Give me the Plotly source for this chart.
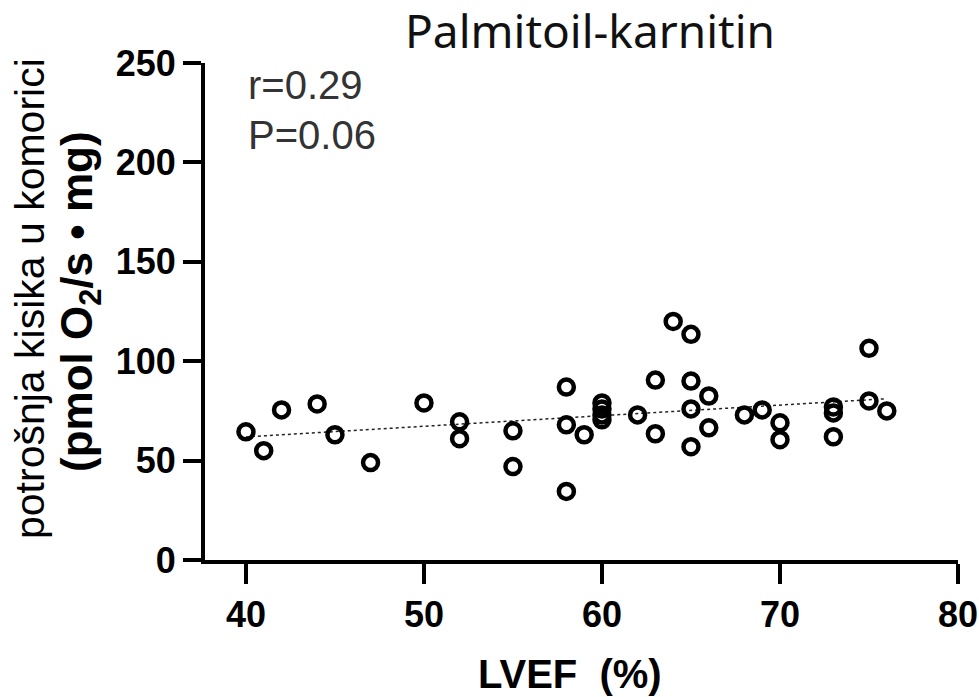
import numpy as np
import plotly.graph_objects as go

# Data
lvef = [40, 41, 42, 44, 45, 47, 50, 52, 52, 55, 55, 58, 58, 58, 59,
        60, 60, 60, 60, 62, 63, 63, 64, 65, 65, 65, 65, 66, 66, 68,
        69, 70, 70, 73, 73, 73, 75, 75, 76]
o2 = [64.5, 55, 75.5, 78.5, 63, 49, 79, 69.5, 61, 65, 47, 87, 68, 34.5, 63,
      79, 76, 73, 70.5, 73, 90.5, 63.5, 120, 113.5, 90, 76, 57, 82.5, 66.5, 73,
      75.5, 69, 60.5, 77, 74, 62, 106.5, 80, 75]
x_ticks = [40, 50, 60, 70, 80]
y_ticks = [0, 50, 100, 150, 200, 250]
title_text = "Palmitoil-karnitin"
stat_r = "r=0.29"
stat_p = "P=0.06"
ytitle1 = "potrošnja kisika u komorici"
ytitle2 = "<b>(pmol O<sub>2</sub>/s • mg)</b>"
xtitle = "<b>LVEF  (%)</b>"

W, H = 979, 697
L, R, T, B = 205, 958, 63, 560


def px(x):
    return (x - L) / (R - L)


def py(y):
    return (B - y) / (B - T)


slope, intercept = np.polyfit(lvef, o2, 1)
fx = [min(lvef), max(lvef)]
fy = [slope * v + intercept for v in fx]

fig = go.Figure()
fig.add_trace(go.Scatter(x=fx, y=fy, mode="lines",
                         line=dict(color="#222", width=1.5, dash="dot"),
                         hoverinfo="skip", showlegend=False))
fig.add_trace(go.Scatter(x=lvef, y=o2, mode="markers",
                         marker=dict(symbol="circle-open", size=15, color="black",
                                     line=dict(width=4.5, color="black")),
                         showlegend=False))

axfont = dict(family="Liberation Sans, Arial", size=36, color="black", weight="bold")
fig.update_xaxes(range=[37.7, 80], tickvals=x_ticks, ticks="outside", ticklen=20,
                 tickwidth=4, tickcolor="black", showline=True, linewidth=4,
                 linecolor="black", showgrid=False, zeroline=False, tickfont=axfont,
                 automargin=False)
fig.update_yaxes(range=[0, 250], tickvals=y_ticks, ticks="outside", ticklen=18,
                 tickwidth=4, tickcolor="black", showline=True, linewidth=4,
                 linecolor="black", showgrid=False, zeroline=False, tickfont=axfont,
                 automargin=False)

ann = [
    dict(text=title_text, x=px(590), y=py(30), font=dict(family="Noto Sans", size=46, color="#111"),
         xanchor="center", yanchor="middle"),
    dict(text=stat_r, x=px(246), y=py(85), font=dict(family="Liberation Sans, Arial", size=40, color="#333"),
         xanchor="left", yanchor="middle"),
    dict(text=stat_p, x=px(246), y=py(135), font=dict(family="Liberation Sans, Arial", size=40, color="#333"),
         xanchor="left", yanchor="middle"),
    dict(text=ytitle1, x=px(30), y=py(299), textangle=-90,
         font=dict(family="Liberation Sans, Arial", size=41, color="black"),
         xanchor="center", yanchor="middle"),
    dict(text=ytitle2, x=px(80), y=py(302), textangle=-90,
         font=dict(family="Liberation Sans, Arial", size=44, color="black"),
         xanchor="center", yanchor="middle"),
    dict(text=xtitle, x=px(570), y=py(674),
         font=dict(family="Liberation Sans, Arial", size=40, color="black"),
         xanchor="center", yanchor="middle"),
]
for a in ann:
    a.update(xref="paper", yref="paper", showarrow=False)

fig.update_layout(width=W, height=H, margin=dict(l=L, r=W - R, t=T, b=H - B),
                  paper_bgcolor="white", plot_bgcolor="white", annotations=ann)
fig.write_html("out.html", config={"displayModeBar": False},
               post_script="document.body.style.margin='0';document.body.style.overflow='hidden';")
